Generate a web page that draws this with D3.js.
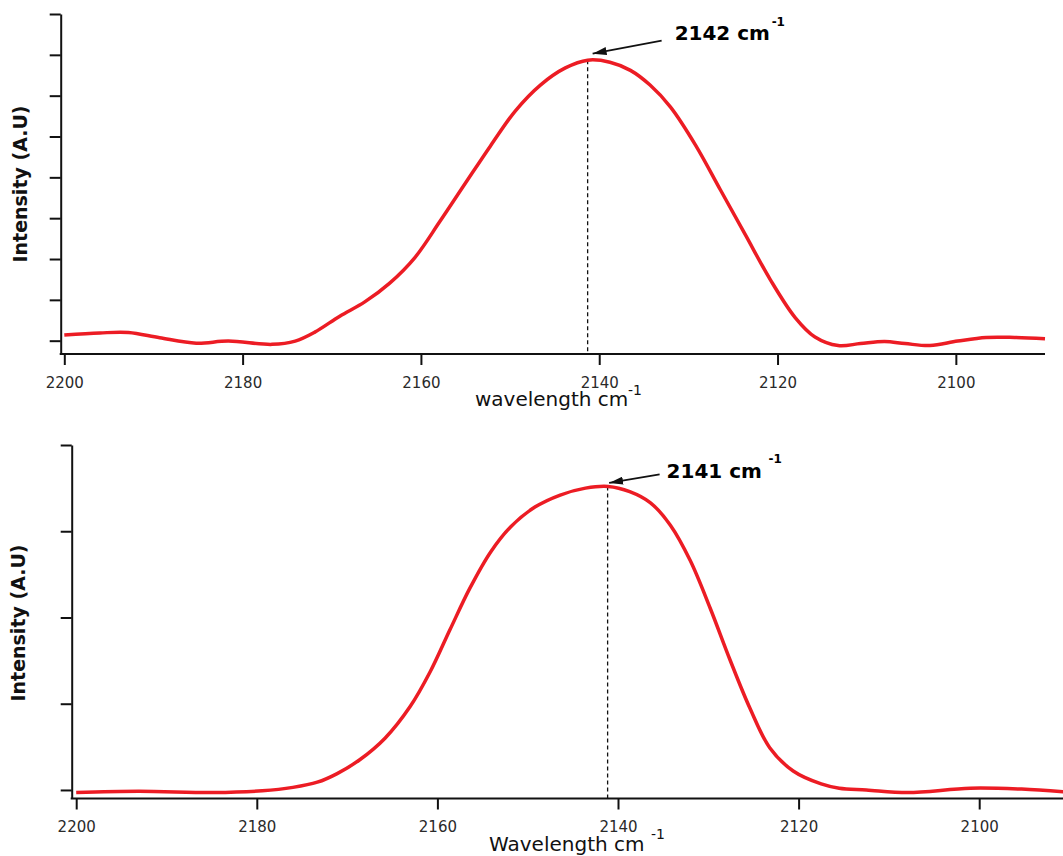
<!DOCTYPE html>
<html>
<head>
<meta charset="utf-8">
<script src="https://cdn.jsdelivr.net/npm/d3@7"></script>
<style>
  body { margin: 0; background: #fff; }
  svg { display: block; }
</style>
</head>
<body>
<svg id="chart"></svg>
<script>
// top spectrum (wavenumber, intensity in tick units)
const topWavenumber = [2200, 2196, 2192.8, 2189.3, 2185.2, 2181.6, 2176.7, 2174.1, 2171.9, 2169.1, 2166.3, 2163.5, 2160.7, 2157.9, 2155.0, 2152.2, 2149.4, 2146.6, 2143.8, 2141.3, 2138.8, 2136.5, 2134.3, 2132.0, 2129.2, 2126.4, 2123.6, 2120.8, 2118.0, 2115.8, 2113.2, 2110.7, 2108.0, 2105.7, 2102.9, 2099.8, 2096.6, 2093.4, 2090.0];
const topIntensity = [0.14, 0.19, 0.20, 0.07, -0.06, -0.01, -0.09, -0.01, 0.21, 0.60, 0.95, 1.41, 2.03, 2.91, 3.86, 4.77, 5.63, 6.26, 6.68, 6.87, 6.82, 6.62, 6.26, 5.72, 4.79, 3.69, 2.59, 1.49, 0.56, 0.09, -0.12, -0.07, -0.02, -0.07, -0.12, -0.01, 0.08, 0.08, 0.05];
const topPeak = {wavenumber: 2141.3, intensity: 6.87, label: "2142 cm"};
const topYTicks = [0, 1, 2, 3, 4, 5, 6, 7, 8];

// bottom spectrum
const bottomWavenumber = [2200, 2193.1, 2184.8, 2179.4, 2176.0, 2173.3, 2171.1, 2168.6, 2165.8, 2163.0, 2160.8, 2158.6, 2156.4, 2154.1, 2151.9, 2149.2, 2146.4, 2143.6, 2141.1, 2138.7, 2136.4, 2134.2, 2132.0, 2129.8, 2127.6, 2125.4, 2123.2, 2120.6, 2117.5, 2115.5, 2112.5, 2107.9, 2101.0, 2095.3, 2090.7];
const bottomIntensity = [-0.03, -0.015, -0.03, -0.01, 0.03, 0.09, 0.19, 0.35, 0.60, 0.97, 1.37, 1.86, 2.34, 2.76, 3.05, 3.28, 3.42, 3.50, 3.52, 3.46, 3.33, 3.07, 2.66, 2.11, 1.51, 0.95, 0.49, 0.22, 0.07, 0.02, 0.0, -0.03, 0.02, 0.01, -0.02];
const bottomPeak = {wavenumber: 2141.15, intensity: 3.52, label: "2141 cm"};
const bottomYTicks = [0, 1, 2, 3, 4];

const xTicks = [2200, 2180, 2160, 2140, 2120, 2100];

const width = 1063, height = 856;
const red = "#ec1c24";

const svg = d3.select("#chart")
    .attr("width", width)
    .attr("height", height)
    .style("background", "#fff");

const panels = [
    {
        wn: topWavenumber, val: topIntensity, peak: topPeak, yTicks: topYTicks,
        xRange: [64.3, 1045], yDomain: [-0.326, 8], yRange: [354, 14],
        axisX: 60.7, axisEnd: 1045,
        xTitle: "wavelength cm", xTitleX: 475, xTitleY: 406, supX: 628, supY: 395,
        yTitleX: 20, yTitleY: 184,
        // annotation offsets from the peak point
        arrowEnd: [5, -6.5], arrowStart: [74, -19.5], labelAt: [87, -20.5], supAt: [184, -34.5]
    },
    {
        wn: bottomWavenumber, val: bottomIntensity, peak: bottomPeak, yTicks: bottomYTicks,
        xRange: [76.2, 1069.5], yDomain: [-0.099, 4], yRange: [798.5, 445],
        axisX: 71.7, axisEnd: 1063,
        xTitle: "Wavelength cm", xTitleX: 489, xTitleY: 851, supX: 651, supY: 839,
        yTitleX: 18, yTitleY: 623,
        arrowEnd: [1.5, -3.5], arrowStart: [52, -12], labelAt: [59, -8], supAt: [161, -23]
    }
];

svg.append("defs").append("marker")
    .attr("id", "arrow")
    .attr("viewBox", "0 0 14 8")
    .attr("refX", 14).attr("refY", 4)
    .attr("markerWidth", 14).attr("markerHeight", 8)
    .attr("markerUnits", "userSpaceOnUse")
    .attr("orient", "auto")
    .append("path")
    .attr("d", "M0,0 L14,4 L0,8 Z")
    .attr("fill", "#111");

panels.forEach(p => {
    const x = d3.scaleLinear().domain([2200, 2090]).range(p.xRange);
    const y = d3.scaleLinear().domain(p.yDomain).range(p.yRange);
    const g = svg.append("g");
    const baseY = p.yRange[0];

    // x axis
    const xAxis = g.append("g")
        .attr("transform", `translate(0,${baseY})`)
        .call(d3.axisBottom(x).tickValues(xTicks).tickSize(11).tickSizeOuter(0).tickPadding(12).tickFormat(d3.format("d")));
    xAxis.select(".domain").remove();
    xAxis.selectAll(".tick line").attr("stroke", "#111").attr("stroke-width", 2);
    xAxis.selectAll(".tick text")
        .attr("fill", "#2a2a2a")
        .style("font", "15px 'DejaVu Sans', sans-serif");
    g.append("line")
        .attr("x1", p.axisX - 1).attr("x2", p.axisEnd)
        .attr("y1", baseY).attr("y2", baseY)
        .attr("stroke", "#111").attr("stroke-width", 2);

    // y axis
    const yAxis = g.append("g")
        .attr("transform", `translate(${p.axisX},0)`)
        .call(d3.axisLeft(y).tickValues(p.yTicks).tickSize(11).tickSizeOuter(0).tickFormat(""));
    yAxis.select(".domain").attr("stroke", "#111").attr("stroke-width", 2);
    yAxis.selectAll(".tick line").attr("stroke", "#111").attr("stroke-width", 2);

    // titles
    g.append("text")
        .attr("x", p.xTitleX).attr("y", p.xTitleY)
        .attr("fill", "#111")
        .style("font", "20px 'DejaVu Sans', sans-serif")
        .text(p.xTitle);
    g.append("text")
        .attr("x", p.supX).attr("y", p.supY)
        .attr("fill", "#111")
        .style("font", "14px 'DejaVu Sans', sans-serif")
        .text("-1");
    g.append("text")
        .attr("transform", `translate(${p.yTitleX},${p.yTitleY}) rotate(-90)`)
        .attr("text-anchor", "middle")
        .attr("dominant-baseline", "central")
        .attr("fill", "#111")
        .style("font", "bold 19px 'DejaVu Sans', sans-serif")
        .text("Intensity (A.U)");

    // dashed peak marker
    const px = x(p.peak.wavenumber), py = y(p.peak.intensity);
    g.append("line")
        .attr("x1", px).attr("x2", px)
        .attr("y1", py).attr("y2", baseY)
        .attr("stroke", "#111").attr("stroke-width", 1.3)
        .attr("stroke-dasharray", "4,3");

    // spectrum
    const line = d3.line()
        .x((d, i) => x(p.wn[i]))
        .y(d => y(d))
        .curve(d3.curveCatmullRom.alpha(0.5));
    g.append("path")
        .datum(p.val)
        .attr("d", line)
        .attr("fill", "none")
        .attr("stroke", red)
        .attr("stroke-width", 3.5)
        .attr("stroke-linejoin", "round");

    // annotation arrow and label
    g.append("line")
        .attr("x1", px + p.arrowStart[0]).attr("y1", py + p.arrowStart[1])
        .attr("x2", px + p.arrowEnd[0]).attr("y2", py + p.arrowEnd[1])
        .attr("stroke", "#111").attr("stroke-width", 1.6)
        .attr("marker-end", "url(#arrow)");
    g.append("text")
        .attr("x", px + p.labelAt[0]).attr("y", py + p.labelAt[1])
        .attr("fill", "#000")
        .style("font", "bold 20px 'DejaVu Sans', sans-serif")
        .text(p.peak.label);
    g.append("text")
        .attr("x", px + p.supAt[0]).attr("y", py + p.supAt[1])
        .attr("fill", "#000")
        .style("font", "bold 12px 'DejaVu Sans', sans-serif")
        .text("-1");
});
</script>
</body>
</html>
